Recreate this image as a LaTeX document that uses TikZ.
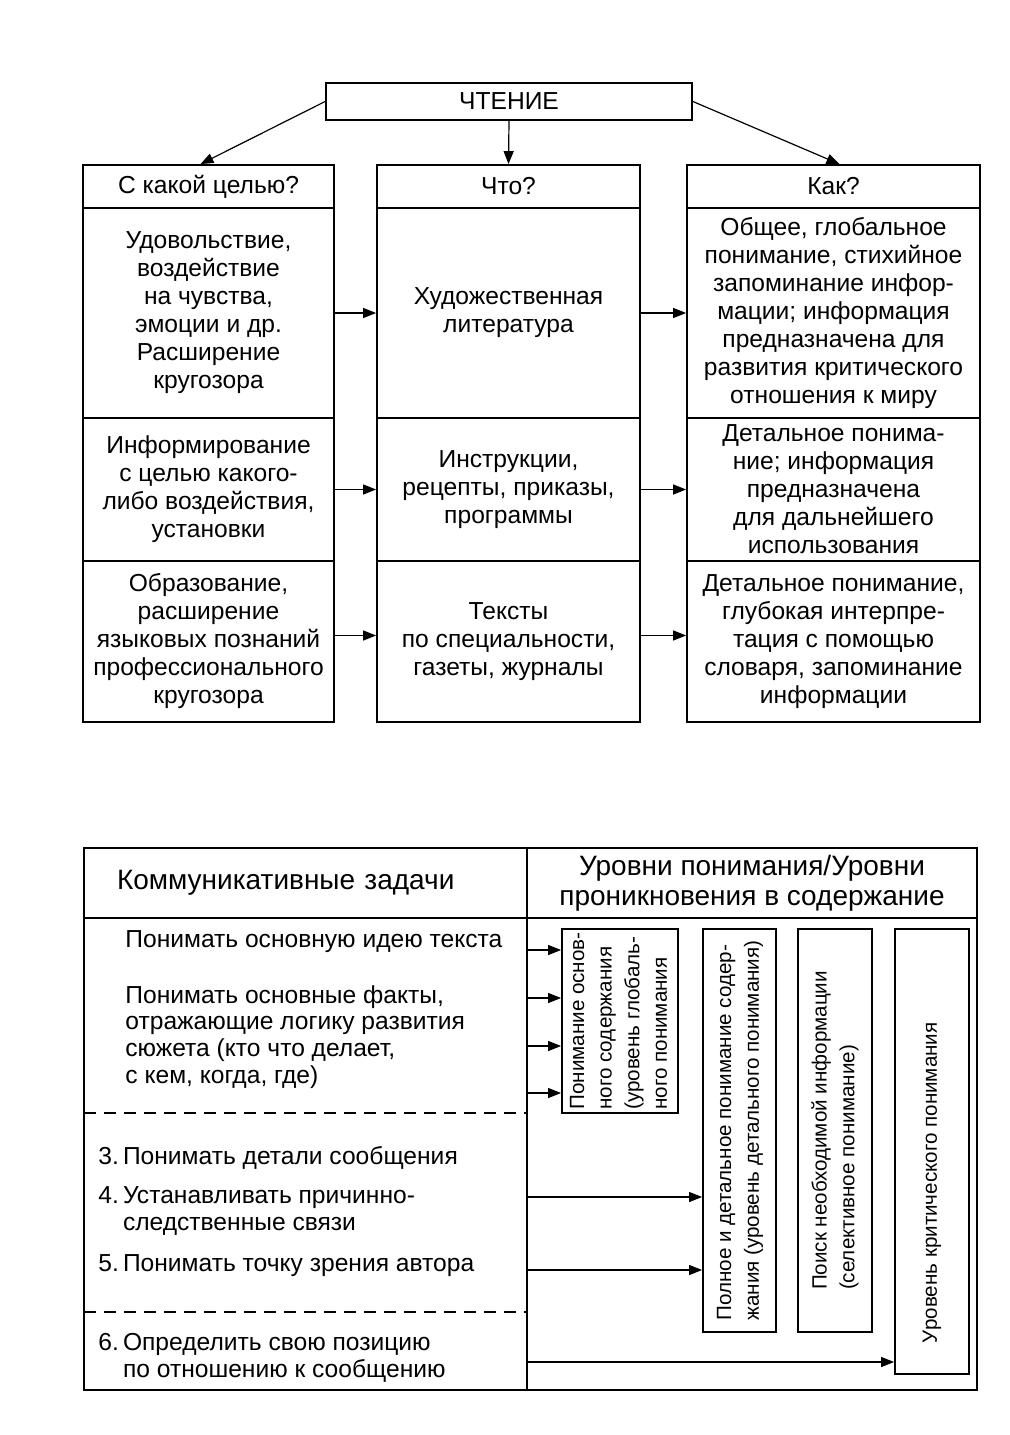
\documentclass[tikz,border=0pt]{standalone}
\usepackage{fontspec}
\setmainfont{Liberation Sans}
\usepackage{graphicx}
\usetikzlibrary{arrows.meta}

\begin{document}
\begin{tikzpicture}[x=0.5pt,y=-0.5pt,
	cell/.style={draw, line width=0.9pt, align=center, inner sep=0pt, font=\fontsize{12.3}{14}\selectfont},
	arr/.style={-{Triangle[length=6.5pt,width=5pt]}, line width=0.6pt},
	lvl/.style={draw, line width=0.9pt, inner sep=0pt, font=\fontsize{10.3}{13.8}\selectfont},
	task/.style={anchor=west, align=left, inner sep=0pt, font=\fontsize{12.3}{13.4}\selectfont},
	sep/.style={line width=0.7pt, dash pattern=on 6pt off 4pt}]

	\useasboundingbox (0,0) rectangle (1010,1435);

	% Top: reading and its three questions
	\node[cell, minimum width=183pt, minimum height=18.5pt] (read) at (509,101.5) {ЧТЕНИЕ};

	\node[cell, minimum width=125.5pt, minimum height=21.5pt] (goalhead) at (208.5,186.5) {С какой целью?};
	\node[cell, minimum width=131.5pt, minimum height=21.5pt] (whathead) at (508.5,186.5) {Что?};
	\node[cell, minimum width=146.5pt, minimum height=21.5pt] (howhead) at (833.5,186.5) {Как?};

	\draw[arr] (read.west) -- ([xshift=-4pt]goalhead.north);
	\draw[arr] (read.south) -- (whathead.north);
	\draw[arr] (read.east) -- ([xshift=3pt]howhead.north);

	% Column "with what aim"
	\node[cell, minimum width=125.5pt, minimum height=105pt] (goal1) at (208.5,313) {Удовольствие,\\воздействие\\на чувства,\\эмоции и др.\\Расширение\\кругозора};
	\node[cell, minimum width=125.5pt, minimum height=71.5pt] (goal2) at (208.5,489.5) {Информирование\\с целью какого-\\либо воздействия,\\установки};
	\node[cell, minimum width=125.5pt, minimum height=80.5pt] (goal3) at (208.5,641.5) {Образование,\\расширение\\языковых познаний\\профессионального\\кругозора};

	% Column "what"
	\node[cell, minimum width=131.5pt, minimum height=105pt] (what1) at (508.5,313) {Художественная\\литература};
	\node[cell, minimum width=131.5pt, minimum height=71.5pt] (what2) at (508.5,489.5) {Инструкции,\\рецепты, приказы,\\программы};
	\node[cell, minimum width=131.5pt, minimum height=80.5pt] (what3) at (508.5,641.5) {Тексты\\по специальности,\\газеты, журналы};

	% Column "how"
	\node[cell, minimum width=146.5pt, minimum height=105pt] (how1) at (833.5,313) {Общее, глобальное\\понимание, стихийное\\запоминание инфор-\\мации; информация\\предназначена для\\развития критического\\отношения к миру};
	\node[cell, minimum width=146.5pt, minimum height=71.5pt] (how2) at (833.5,489.5) {Детальное понима-\\ние; информация\\предназначена\\для дальнейшего\\использования};
	\node[cell, minimum width=146.5pt, minimum height=80.5pt] (how3) at (833.5,641.5) {Детальное понимание,\\глубокая интерпре-\\тация с помощью\\словаря, запоминание\\информации};

	\draw[arr] (goal1.east) -- (what1.west);
	\draw[arr] (goal2.east) -- (what2.west);
	\draw[arr] ([yshift=3pt]goal3.east) -- ([yshift=3pt]what3.west);
	\draw[arr] (what1.east) -- (how1.west);
	\draw[arr] (what2.east) -- (how2.west);
	\draw[arr] ([yshift=3pt]what3.east) -- ([yshift=3pt]how3.west);

	% Bottom: table frame
	\node[draw, line width=0.9pt, minimum width=221.5pt, minimum height=35pt, inner xsep=16.5pt, text width=188.5pt, align=left, font=\fontsize{14}{15}\selectfont] (taskhead) at (305.5,883) {Коммуникативные задачи};
	\node[draw, line width=0.9pt, minimum width=225pt, minimum height=35pt, inner sep=0pt, align=center, font=\fontsize{14}{15}\selectfont] (levelhead) at (752,883) {Уровни понимания/Уровни\\проникновения в содержание};
	\node[draw, line width=0.9pt, minimum width=221.5pt, minimum height=236pt] (taskbody) at (305.5,1154) {};
	\node[draw, line width=0.9pt, minimum width=225pt, minimum height=236pt] (levelbody) at (752,1154) {};

	\draw[sep] (84,1113) -- (527,1113);
	\draw[sep] (84,1312) -- (527,1312);

	% Communicative tasks
	\node[task] (task1) at (125,942) {Понимать основную идею текста};
	\node[task] (task2) at (125,1037) {Понимать основные факты,\\отражающие логику развития\\сюжета (кто что делает,\\с кем, когда, где)};
	\node[task] (task3) at (98,1158) {3.\,Понимать детали сообщения};
	\node[task] (task4) at (98,1211) {4.\,Устанавливать причинно-\\\phantom{4.\,}следственные связи};
	\node[task] (task5) at (98,1266) {5.\,Понимать точку зрения автора};
	\node[task] (task6) at (98,1358) {6.\,Определить свою позицию\\\phantom{6.\,}по отношению к сообщению};

	% Levels of understanding
	\node[lvl, minimum width=58pt, minimum height=92pt] (lvl1) at (620,1021) {\rotatebox{90}{\begin{tabular}{@{}l@{}}Понимание основ-\\ного содержания\\(уровень глобаль-\\ного понимания\end{tabular}}};
	\node[lvl, minimum width=36.5pt, minimum height=201.5pt] (lvl2) at (739.5,1130.5) {\rotatebox{90}{\begin{tabular}{@{}l@{}}Полное и детальное понимание содер-\\жания (уровень детального понимания)\end{tabular}}};
	\node[lvl, minimum width=37pt, minimum height=201.5pt] (lvl3) at (835,1130.5) {\rotatebox{90}{\begin{tabular}{@{}l@{}}Поиск необходимой информации\\(селективное понимание)\end{tabular}}};
	\node[lvl, minimum width=37pt, minimum height=222.5pt] (lvl4) at (932,1151.5) {\rotatebox{90}{\makebox[191.5pt][l]{Уровень критического понимания}}};

	% Arrows from the divider
	\coordinate (s1) at (527,950);
	\coordinate (s2) at (527,998);
	\coordinate (s3) at (527,1046);
	\coordinate (s4) at (527,1093);
	\coordinate (s5) at (527,1197);
	\coordinate (s6) at (527,1270);
	\coordinate (s7) at (527,1362);

	\foreach \s in {s1,s2,s3,s4}
		\draw[arr] (\s) -- (\s -| lvl1.west);
	\draw[arr] (s5) -- (s5 -| lvl2.west);
	\draw[arr] (s6) -- (s6 -| lvl2.west);
	\draw[arr] (s7) -- (s7 -| lvl4.west);

\end{tikzpicture}
\end{document}
